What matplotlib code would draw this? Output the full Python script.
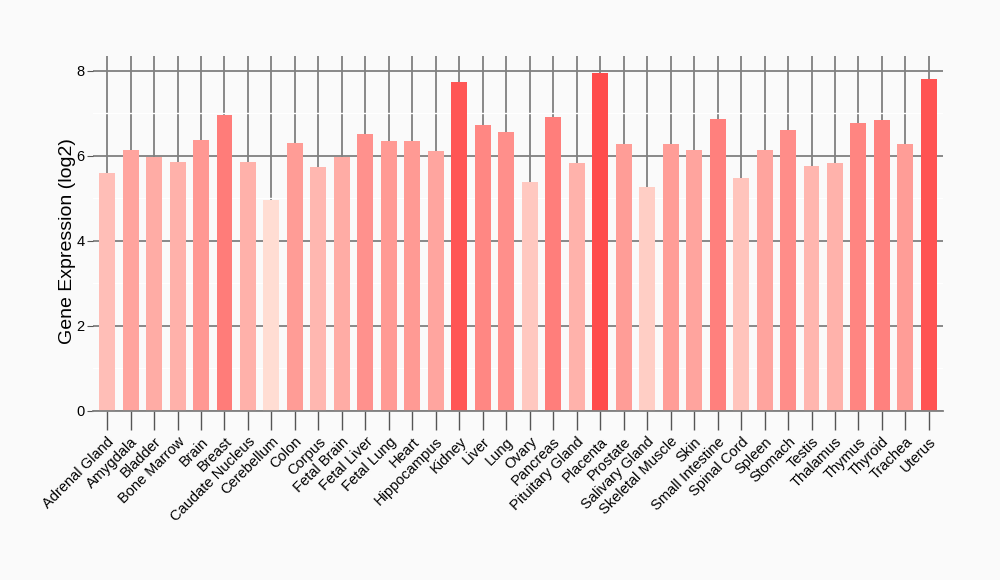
import matplotlib
matplotlib.use("Agg")
import matplotlib.pyplot as plt
import numpy as np

tissues = ["Adrenal Gland", "Amygdala", "Bladder", "Bone Marrow", "Brain", "Breast",
           "Caudate Nucleus", "Cerebellum", "Colon", "Corpus", "Fetal Brain", "Fetal Liver",
           "Fetal Lung", "Heart", "Hippocampus", "Kidney", "Liver", "Lung", "Ovary",
           "Pancreas", "Pituitary Gland", "Placenta", "Prostate", "Salivary Gland",
           "Skeletal Muscle", "Skin", "Small Intestine", "Spinal Cord", "Spleen", "Stomach",
           "Testis", "Thalamus", "Thymus", "Thyroid", "Trachea", "Uterus"]
expression = [5.59, 6.14, 5.98, 5.86, 6.38, 6.96,
              5.86, 4.96, 6.30, 5.74, 5.98, 6.52,
              6.35, 6.35, 6.12, 7.74, 6.73, 6.56, 5.39,
              6.92, 5.84, 7.95, 6.28, 5.27,
              6.28, 6.14, 6.87, 5.48, 6.14, 6.61,
              5.76, 5.84, 6.78, 6.85, 6.28, 7.81]
y_ticks = [0, 2, 4, 6, 8]

plt.rcParams['font.family'] = ['Liberation Sans', 'DejaVu Sans']

vals = np.array(expression)
lo = np.array([255, 221, 211]) / 255
hi = np.array([255, 76, 76]) / 255
frac = (vals - vals.min()) / (vals.max() - vals.min())
colors = [tuple(lo + (hi - lo) * f) for f in frac]

fig = plt.figure(figsize=(10, 5.8), dpi=100)
fig.patch.set_facecolor('#fafafa')
ax = fig.add_axes([0.093, 0.2914, 0.85, 0.612])
ax.set_facecolor('#fafafa')
ax.set_axisbelow(True)

x = np.arange(len(tissues))
ax.bar(x, vals, width=0.68, color=colors, zorder=3)

ax.set_xlim(-0.6, len(tissues) - 0.4)
ax.set_ylim(0, 8.35)
ax.set_yticks(y_ticks)
ax.set_yticks([1, 3, 5, 7], minor=True)
ax.grid(axis='y', which='major', color='#808080', lw=1.3)
ax.grid(axis='y', which='minor', color='white', lw=1.0)
ax.grid(axis='x', which='major', color='#808080', lw=1.3)
ax.set_xticks(x)
ax.set_xticklabels(tissues, rotation=45, ha='right', rotation_mode='anchor', fontsize=10.5)

for s in ['top', 'right', 'left']:
    ax.spines[s].set_visible(False)
ax.spines['bottom'].set_color('#808080')
ax.spines['bottom'].set_linewidth(1.3)
ax.spines['bottom'].set_zorder(4)
ax.tick_params(axis='x', length=14, color='#555555', width=1, pad=3)
ax.tick_params(axis='y', which='major', length=4, color='#555555', labelsize=10.5, pad=2)
ax.tick_params(axis='y', which='minor', length=0)
ax.set_ylabel('Gene Expression (log2)', fontsize=14)
ax.yaxis.set_label_coords(-0.02, 0.48)

fig.savefig('out.png', dpi=100, facecolor=fig.get_facecolor())
